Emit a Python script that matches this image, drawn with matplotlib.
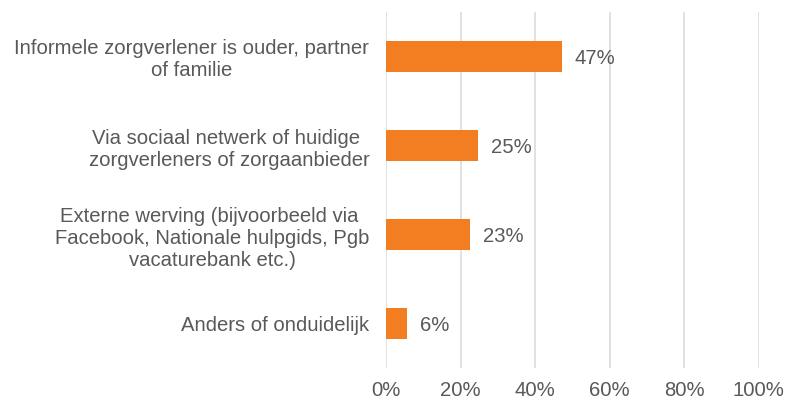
import matplotlib.pyplot as plt
from matplotlib.ticker import FuncFormatter

plt.rcParams['font.family'] = ['Liberation Sans', 'DejaVu Sans']

categories = [
    'Informele zorgverlener is ouder, partner\nof familie',
    'Via sociaal netwerk of huidige \nzorgverleners of zorgaanbieder',
    'Externe werving (bijvoorbeeld via \nFacebook, Nationale hulpgids, Pgb\nvacaturebank etc.)',
    'Anders of onduidelijk',
]
values = [47.2, 24.6, 22.6, 5.6]
xticks = [0, 20, 40, 60, 80, 100]

orange = '#F37E22'
grey_txt = '#595959'
fs = 14.6

fig = plt.figure(figsize=(7.87, 4.01), dpi=100)
ax = fig.add_axes([386 / 787, 1 - 368 / 401, (758.7 - 386) / 787, (368 - 12) / 401])

pos = list(range(len(categories)))
ax.barh(pos, values, height=0.35, color=orange, zorder=3)
for p, v in zip(pos, values):
    ax.text(v + 3.5, p + 0.02, '%d%%' % round(v), va='center', ha='left',
            fontsize=fs, color=grey_txt)

ax.set_xlim(0, 100)
ax.set_ylim(len(categories) - 0.5, -0.5)
ax.set_xticks(xticks)
ax.xaxis.set_major_formatter(FuncFormatter(lambda x, _: '%d%%' % x))
ax.set_yticks(pos)
ax.set_yticklabels(categories)
for t in ax.get_yticklabels():
    t.set_multialignment('center')
    t.set_linespacing(1.2)

ax.grid(axis='x', color='#D9D9D9', linewidth=1.1, zorder=0)
ax.tick_params(axis='both', length=0, labelsize=fs, labelcolor=grey_txt)
ax.tick_params(axis='x', pad=9)
ax.tick_params(axis='y', pad=12)
for s in ax.spines.values():
    s.set_visible(False)

fig.savefig('out.png', dpi=100)
